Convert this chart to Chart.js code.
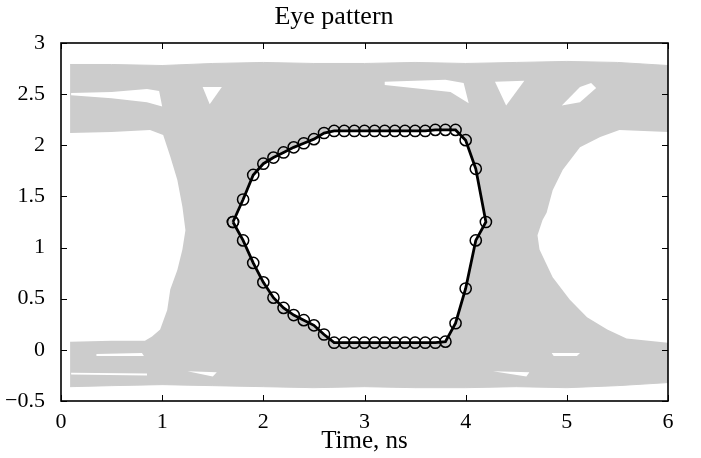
<!DOCTYPE html>
<html>
<head>
<meta charset="utf-8">
<script src="https://cdn.jsdelivr.net/npm/chart.js@4/dist/chart.umd.min.js"></script>
<style>
  html, body { margin: 0; padding: 0; background: #fff; }
  canvas { display: block; }
</style>
</head>
<body>
<canvas id="eye" width="701" height="458"></canvas>
<script>
// axis ticks
const xTicks = [0, 1, 2, 3, 4, 5, 6];
const yTicks = [-0.5, 0, 0.5, 1, 1.5, 2, 2.5, 3];

// black eye contour (closed loop, every 0.1 ns)
const contourX = [1.7, 1.8, 1.9, 2.0, 2.1, 2.2, 2.3, 2.4, 2.5, 2.6, 2.7, 2.8, 2.9, 3.0, 3.1, 3.2, 3.3, 3.4, 3.5, 3.6, 3.7, 3.8, 3.9, 4.0, 4.1, 4.2,
                  4.1, 4.0, 3.9, 3.8, 3.7, 3.6, 3.5, 3.4, 3.3, 3.2, 3.1, 3.0, 2.9, 2.8, 2.7, 2.6, 2.5, 2.4, 2.3, 2.2, 2.1, 2.0, 1.9, 1.8, 1.7];
const contourY = [1.25, 1.47, 1.71, 1.82, 1.88, 1.93, 1.98, 2.02, 2.06, 2.12, 2.14, 2.14, 2.14, 2.14, 2.14, 2.14, 2.14, 2.14, 2.14, 2.14, 2.15, 2.15, 2.15, 2.05, 1.77, 1.25,
                  1.07, 0.60, 0.26, 0.08, 0.07, 0.07, 0.07, 0.07, 0.07, 0.07, 0.07, 0.07, 0.07, 0.07, 0.07, 0.15, 0.24, 0.29, 0.34, 0.41, 0.51, 0.66, 0.85, 1.07, 1.25];

// outer envelope of the grey traces
const grayX = [0.09, 0.5, 1.0, 1.5, 2.0, 2.5, 3.0, 3.5, 4.0, 4.5, 5.0, 5.5, 6.0,
               6.0, 5.5, 5.0, 4.5, 4.0, 3.5, 3.0, 2.5, 2.0, 1.5, 1.0, 0.5, 0.09];
const grayY = [2.79, 2.79, 2.78, 2.80, 2.81, 2.80, 2.80, 2.81, 2.80, 2.81, 2.82, 2.81, 2.78,
               -0.32, -0.35, -0.37, -0.36, -0.37, -0.37, -0.36, -0.37, -0.36, -0.35, -0.34, -0.35, -0.36];

// white area left of the first crossing
const leftHoleX = [0, 0.09, 0.5, 0.88, 1.01, 1.08, 1.15, 1.20, 1.23, 1.20, 1.15, 1.08, 1.05, 0.98, 0.90, 0.83, 0.5, 0.09, 0];
const leftHoleY = [2.12, 2.12, 2.13, 2.15, 2.10, 1.89, 1.66, 1.40, 1.17, 0.98, 0.78, 0.59, 0.39, 0.20, 0.13, 0.09, 0.09, 0.08, 0.08];

// white area right of the second crossing
const rightHoleX = [6.0, 5.52, 5.33, 5.13, 4.96, 4.86, 4.80, 4.76, 4.71, 4.73, 4.86, 5.03, 5.20, 5.40, 5.59, 6.0];
const rightHoleY = [2.13, 2.15, 2.08, 1.98, 1.76, 1.56, 1.34, 1.27, 1.12, 0.98, 0.71, 0.49, 0.32, 0.20, 0.11, 0.07];

// small gaps between traces
const gapsX = [
  [0.1, 0.5, 0.85, 0.97, 1.0, 0.85, 0.5, 0.1],
  [1.40, 1.59, 1.47],
  [3.2, 3.8, 3.98, 4.03, 3.85, 3.2],
  [4.29, 4.58, 4.40],
  [4.95, 5.13, 5.24, 5.29, 5.13],
  [0.35, 0.8, 0.82, 0.35],
  [0.1, 0.85, 0.85, 0.1],
  [1.25, 1.54, 1.50],
  [4.85, 5.13, 5.10, 4.87],
  [4.27, 4.63, 4.60]
];
const gapsY = [
  [2.51, 2.52, 2.55, 2.53, 2.38, 2.42, 2.46, 2.49],
  [2.57, 2.57, 2.40],
  [2.62, 2.64, 2.61, 2.41, 2.52, 2.59],
  [2.62, 2.63, 2.39],
  [2.39, 2.57, 2.61, 2.56, 2.42],
  [-0.04, -0.03, -0.06, -0.06],
  [-0.225, -0.23, -0.25, -0.24],
  [-0.21, -0.22, -0.26],
  [-0.03, -0.03, -0.06, -0.06],
  [-0.21, -0.22, -0.26]
];

const GREY = '#cccccc';
const pts = (xs, ys) => xs.map((x, i) => ({ x: x, y: ys[i] }));

function polygon(xs, ys, color, order) {
  return {
    data: pts(xs, ys),
    borderColor: color === '#ffffff' ? 'rgba(0,0,0,0)' : color,
    borderWidth: 1,
    backgroundColor: color,
    fill: 'shape',
    pointRadius: 0,
    order: order
  };
}

const datasets = [
  {
    label: 'eye',
    data: pts(contourX, contourY),
    borderColor: '#000',
    borderWidth: 2.8,
    backgroundColor: '#ffffff',
    fill: 'shape',
    pointRadius: 5.6,
    pointBorderWidth: 1.5,
    pointBorderColor: '#000',
    pointBackgroundColor: 'rgba(0,0,0,0)',
    order: 0
  },
  polygon(grayX, grayY, GREY, 5),
  polygon(leftHoleX, leftHoleY, '#ffffff', 4),
  polygon(rightHoleX, rightHoleY, '#ffffff', 4)
];
gapsX.forEach((xs, i) => datasets.push(polygon(xs, gapsY[i], '#ffffff', 3)));

// box with inward ticks on all four sides
const frame = {
  id: 'frame',
  afterDraw(chart) {
    const { ctx, chartArea: a, scales: { x, y } } = chart;
    ctx.save();
    ctx.strokeStyle = '#000';
    ctx.lineWidth = 1.6;
    ctx.strokeRect(a.left, a.top, a.right - a.left, a.bottom - a.top);
    ctx.lineWidth = 1;
    ctx.beginPath();
    xTicks.forEach(v => {
      const p = Math.round(x.getPixelForValue(v)) + 0.5;
      ctx.moveTo(p, a.bottom); ctx.lineTo(p, a.bottom - 6);
      ctx.moveTo(p, a.top); ctx.lineTo(p, a.top + 6);
    });
    yTicks.forEach(v => {
      const p = Math.round(y.getPixelForValue(v)) + 0.5;
      ctx.moveTo(a.left, p); ctx.lineTo(a.left + 6, p);
      ctx.moveTo(a.right, p); ctx.lineTo(a.right - 6, p);
    });
    ctx.stroke();
    ctx.restore();
  }
};

Chart.defaults.font.family = "'Liberation Serif', serif";
Chart.defaults.color = '#000';

new Chart(document.getElementById('eye'), {
  type: 'line',
  data: { datasets: datasets },
  options: {
    responsive: false,
    animation: false,
    layout: { padding: { left: 0, right: 33, top: 0, bottom: 0 } },
    plugins: {
      legend: { display: false },
      tooltip: { enabled: false },
      title: {
        display: true,
        text: 'Eye pattern',
        font: { size: 26, weight: 'normal' },
        color: '#000',
        padding: { top: 1.4, bottom: 10.4 }
      }
    },
    scales: {
      x: {
        type: 'linear',
        min: 0,
        max: 6,
        afterBuildTicks: s => { s.ticks = xTicks.map(v => ({ value: v })); },
        ticks: { font: { size: 22 }, padding: 0, maxRotation: 0 },
        grid: { display: false },
        border: { display: false },
        title: { display: true, text: 'Time, ns', font: { size: 25 }, padding: { top: 0, bottom: 1.5 } },
        afterFit: s => { s.height = 57; }
      },
      y: {
        type: 'linear',
        min: -0.5,
        max: 3,
        afterBuildTicks: s => { s.ticks = yTicks.map(v => ({ value: v })); },
        ticks: {
          font: { size: 22 },
          padding: 8,
          callback: v => (v < 0 ? '\u2212' + Math.abs(v) : String(v))
        },
        grid: { display: false },
        border: { display: false },
        afterFit: s => { s.width = 61; }
      }
    }
  },
  plugins: [frame]
});
</script>
</body>
</html>
